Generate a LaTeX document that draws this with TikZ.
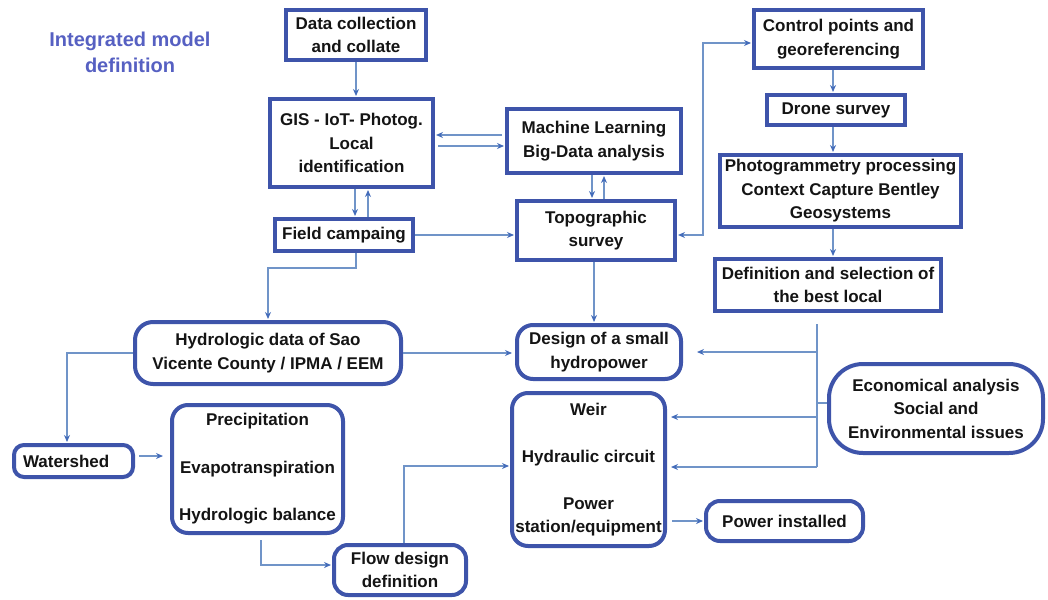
\documentclass[tikz,border=0pt]{standalone}
\usepackage{fontspec}
\setmainfont{Liberation Sans}
\usetikzlibrary{arrows.meta}

\definecolor{boxblue}{RGB}{62,84,170}
\definecolor{linkblue}{RGB}{112,148,200}
\definecolor{tipblue}{RGB}{68,108,186}
\definecolor{titleblue}{RGB}{86,96,194}
\definecolor{ink}{RGB}{20,20,20}

\begin{document}
\begin{tikzpicture}[x=1pt,y=-1pt,
  >={Stealth[length=7pt,width=6pt,color=tipblue]},
  box/.style={draw=boxblue, line width=4pt, inner sep=0pt, fill=white,
              align=center, text=ink,
              font=\bfseries\fontsize{17}{23.5}\selectfont},
  sq/.style={box},
  rnd/.style={box, rounded corners=#1},
  rnd/.default=16pt,
  link/.style={draw=linkblue, line width=1.4pt},
  arr/.style={link, ->, shorten >=1pt},
]
\useasboundingbox (0,0) rectangle (1048,599);

% heading
\node[text=titleblue, align=center, font=\bfseries\fontsize{20}{26}\selectfont]
  (title) at (130,52) {Integrated model\\definition};

% square boxes
\node[sq, minimum width=140pt, minimum height=50pt] (data)   at (356,35)    {Data collection\\and collate};
\node[sq, minimum width=163pt, minimum height=88pt] (gis)    at (351.5,143) {GIS - IoT- Photog.\\Local\\identification};
\node[sq, minimum width=174pt, minimum height=64pt] (ml)     at (594,141)   {Machine Learning\\Big-Data analysis};
\node[sq, minimum width=158pt, minimum height=59pt] (topo)   at (596,230.5) {Topographic\\survey};
\node[sq, minimum width=138pt, minimum height=32pt] (field)  at (344,235)   {Field campaing};
\node[sq, minimum width=169pt, minimum height=58pt] (ctrl)   at (838.5,39)  {Control points and\\georeferencing};
\node[sq, minimum width=138pt, minimum height=30pt] (drone)  at (836,110)   {Drone survey};
\node[sq, minimum width=241pt, minimum height=72pt] (photo)  at (840.5,191) {Photogrammetry processing\\Context Capture Bentley\\Geosystems};
\node[sq, minimum width=226pt, minimum height=52pt] (defsel) at (828,285)   {Definition and selection of\\the best local};

% rounded boxes
\node[rnd=18pt, minimum width=266pt, minimum height=62pt] (hydro)  at (268,353)     {Hydrologic data of Sao\\Vicente County / IPMA / EEM};
\node[rnd, minimum width=171pt, minimum height=128pt]     (precip) at (257.5,469)   {Precipitation\\[24pt]Evapotranspiration\\[24pt]Hydrologic balance};
\node[rnd=10pt, minimum height=32pt, text width=101pt, align=left, inner xsep=9pt] (water) at (73.5,461) {Watershed};
\node[rnd=14pt, minimum width=132pt, minimum height=50pt] (flow)   at (400,570)     {Flow design\\definition};
\node[rnd, minimum width=164pt, minimum height=54pt]      (design) at (599,352)     {Design of a small\\hydropower};
\node[rnd, minimum width=153pt, minimum height=153pt]     (weir)   at (588.5,469.5) {Weir\\[24pt]Hydraulic circuit\\[23pt]Power\\station/equipment};
\node[rnd=14pt, minimum width=157pt, minimum height=40pt] (power)  at (784.5,521)   {Power installed};
\node[rnd=34pt, minimum width=214pt, minimum height=89pt] (econ)   at (936,408.5)   {Economical analysis\\Social and\\Environmental issues};

% data flow, upper part
\draw[arr] (data.south) -- (data.south |- gis.north);
\draw[arr, shorten <=3pt] ([yshift=6pt]ml.west) -- ([yshift=6pt]ml.west -| gis.east);
\draw[arr, shorten <=3pt] ([yshift=-5pt]ml.west -| gis.east) -- ([yshift=-5pt]ml.west);
\draw[arr] ([xshift=3.5pt]gis.south) -- ([xshift=3.5pt]gis.south |- field.north);
\draw[arr] ([xshift=16.5pt]gis.south |- field.north) -- ([xshift=16.5pt]gis.south);
\draw[arr] ([xshift=-2pt]ml.south) -- ([xshift=-2pt]ml.south |- topo.north);
\draw[arr] ([xshift=10pt]ml.south |- topo.north) -- ([xshift=10pt]ml.south);
\draw[arr] (field.east) -- (field.east -| topo.west);
\draw[link, <->, shorten >=1pt, shorten <=1pt]
  ([yshift=-4.5pt]topo.east) -- ++(26,0) |- ([yshift=-4pt]ctrl.west);

% drone survey chain
\draw[arr] ([xshift=-5.5pt]ctrl.south) -- ([xshift=-5.5pt]ctrl.south |- drone.north);
\draw[arr] ([xshift=-3pt]drone.south) -- ([xshift=-3pt]drone.south |- photo.north);
\draw[arr] ([xshift=-7.5pt]photo.south) -- ([xshift=-7.5pt]photo.south |- defsel.north);

% hydrology branch
\draw[arr] ([xshift=12pt]field.south) -- ++(0,15) -| (hydro.north);
\draw[arr] ([xshift=-2pt]topo.south) -- ([xshift=-2pt]topo.south |- design.north);
\draw[arr, shorten >=3pt] (hydro.east) -- (hydro.east -| design.west);
\draw[arr] (hydro.west) -| ([xshift=-6.5pt]water.north);
\draw[arr, shorten <=4pt, shorten >=7pt] ([yshift=5pt]water.east) -- ([yshift=5pt]water.east -| precip.west);
\draw[arr, shorten <=5pt] ([xshift=3.5pt]precip.south) |- ([yshift=5pt]flow.west);
\draw[arr] ([xshift=4pt]flow.north) |- ([yshift=3.5pt]weir.west);

% bus from the site selection and the impact analysis
\coordinate (busT) at (817,324);
\coordinate (busB) at (817,467);
\draw[link] (busT) -- (busB);
\draw[arr, shorten >=14pt] (busT |- design.east) -- (design.east);
\draw[arr, shorten >=4pt] ([yshift=52.5pt]weir.east -| busT) -- ([yshift=52.5pt]weir.east);
\draw[arr, shorten >=4pt] (busB) -- (busB -| weir.east);
\draw[link] ([yshift=5.5pt]econ.west) -- ([yshift=5.5pt]econ.west -| busT);

% output
\draw[arr, shorten <=5pt] (weir.east |- power.west) -- (power.west);
\end{tikzpicture}
\end{document}
